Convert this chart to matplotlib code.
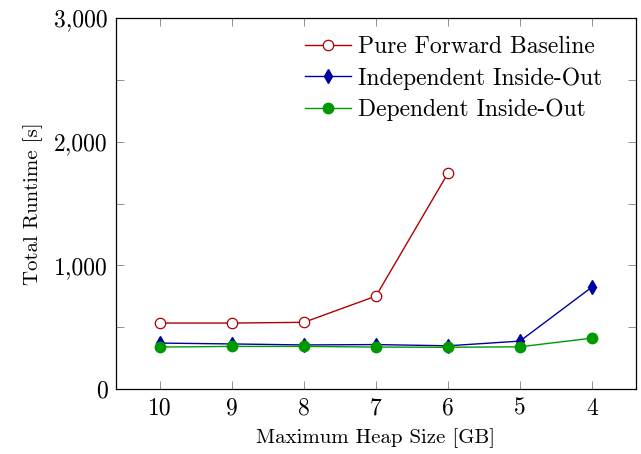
import matplotlib
matplotlib.use("Agg")
import matplotlib.pyplot as plt
from matplotlib.ticker import MultipleLocator

plt.rcParams["font.family"] = "serif"
plt.rcParams["font.serif"] = ["cmr10", "DejaVu Serif"]
plt.rcParams["mathtext.fontset"] = "cm"
plt.rcParams["axes.unicode_minus"] = False

heap = ["10", "9", "8", "7", "6", "5", "4"]
pure_forward = [534, 534, 540, 752, 1746]
independent = [372, 365, 357, 360, 350, 388, 825]
dependent = [340, 345, 345, 340, 338, 342, 412]
yticks = [0, 1000, 2000, 3000]
ytick_labels = ["0", "1,000", "2,000", "3,000"]

RED, BLUE, GREEN = "#b00000", "#0000a0", "#009a00"

fig = plt.figure(figsize=(6.41, 4.54), dpi=100)
ax = fig.add_axes([0.181, 0.143, 0.811, 0.817])
x = list(range(len(heap)))
ax.plot(x[:len(pure_forward)], pure_forward, "-o", color=RED, mfc="white", mec=RED,
        ms=7.5, lw=1.0, mew=0.9, label="Pure Forward Baseline")
ax.plot(x, independent, "-d", color=BLUE, ms=7, lw=1.0, label="Independent Inside-Out")
ax.plot(x, dependent, "-o", color=GREEN, ms=7.5, lw=1.0, label="Dependent Inside-Out")

ax.set_xlim(-0.61, 6.61)
ax.set_ylim(0, 3000)
ax.set_xticks(x)
ax.set_xticklabels(heap)
ax.set_yticks(yticks)
ax.set_yticklabels(ytick_labels)
ax.yaxis.set_minor_locator(MultipleLocator(500))
ax.tick_params(direction="in", which="both", top=True, right=True, labelsize=17,
               length=6, width=0.6, color="0.5", pad=6)
ax.set_xlabel("Maximum Heap Size [GB]", fontsize=15, labelpad=6)
ax.set_ylabel("Total Runtime [s]", fontsize=15, labelpad=8)
for s in ax.spines.values():
    s.set_linewidth(0.9)
ax.legend(loc="upper left", bbox_to_anchor=(0.363, 0.952), fontsize=17, frameon=False,
          handlelength=1.95, borderaxespad=0, borderpad=0, labelspacing=0.38,
          handletextpad=0.3)
fig.savefig("out.png", dpi=100)
